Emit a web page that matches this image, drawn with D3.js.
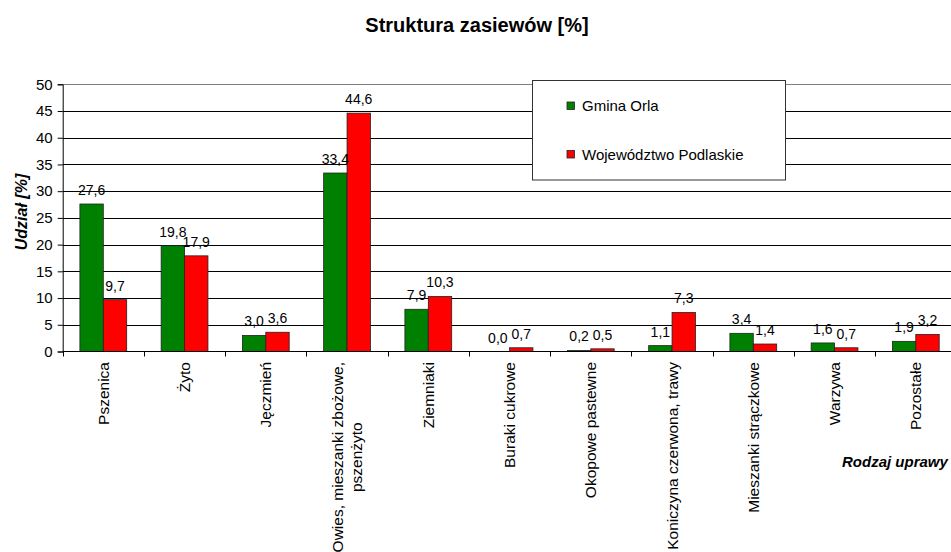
<!DOCTYPE html>
<html>
<head>
<meta charset="utf-8">
<script src="https://cdn.jsdelivr.net/npm/d3@7"></script>
<style>
  body { margin: 0; background: #fff; overflow: hidden; }
  svg { font-family: Arial, "Liberation Sans", sans-serif; }
</style>
</head>
<body>
<div class="chartWrapper"></div>
<script>
// Dane
let categories = ['Pszenica', 'Żyto', 'Jęczmień', 'Owies, mieszanki zbożowe,\npszenżyto', 'Ziemniaki',
	'Buraki cukrowe', 'Okopowe pastewne', 'Koniczyna czerwona, trawy', 'Mieszanki strączkowe', 'Warzywa', 'Pozostałe'];
let seriesNames = ['Gmina Orla', 'Województwo Podlaskie'];
let gminaValues = [27.6, 19.8, 3.0, 33.4, 7.9, 0.0, 0.2, 1.1, 3.4, 1.6, 1.9];
let podlaskieValues = [9.7, 17.9, 3.6, 44.6, 10.3, 0.7, 0.5, 7.3, 1.4, 0.7, 3.2];
let yTicks = [0, 5, 10, 15, 20, 25, 30, 35, 40, 45, 50];
let colors = ['#008000', '#ff0000'];

let width = 951,
	height = 552,
	plotLeft = 62.7,
	plotTop = 84.3,
	plotBottom = 351.5,
	catWidth = 81.25,
	plotRight = plotLeft + catWidth * categories.length;

let rows = categories.map((c, i) => ({ cat: c, values: [gminaValues[i], podlaskieValues[i]] }));

let svg = d3.select('.chartWrapper')
	.append('svg')
	.attr('width', width)
	.attr('height', height);

//Scales
let xScale = d3.scaleBand()
	.domain(categories)
	.range([plotLeft, plotRight])
	.padding(0);

let xInner = d3.scaleBand()
	.domain([0, 1])
	.range([17.2, 64])
	.padding(0);

let yScale = d3.scaleLinear()
	.domain([0, 50])
	.range([plotBottom, plotTop]);

//Gridlines
svg.append('g')
	.attr('class', 'grid')
	.selectAll('line')
	.data(yTicks.filter(d => d > 0))
	.enter()
	.append('line')
	.attr('x1', plotLeft)
	.attr('x2', plotRight)
	.attr('y1', d => Math.round(yScale(d)) + 0.5)
	.attr('y2', d => Math.round(yScale(d)) + 0.5)
	.attr('stroke', d => d === 50 ? '#808080' : '#000')
	.attr('stroke-width', 1);

//Y axis
let yAxis = d3.axisLeft(yScale)
	.tickValues(yTicks)
	.tickSize(5)
	.tickPadding(5)
	.tickFormat(d => d);

let yAxisGroup = svg.append('g')
	.attr('transform', 'translate(' + plotLeft + ',0)')
	.call(yAxis);
yAxisGroup.select('.domain').attr('stroke', '#000');
yAxisGroup.selectAll('.tick line').attr('stroke', '#000');
yAxisGroup.selectAll('.tick text')
	.style('font-size', '15px')
	.style('font-family', 'Arial, "Liberation Sans", sans-serif')
	.attr('fill', '#000');

//Bars
let groups = svg.append('g')
	.selectAll('g')
	.data(rows)
	.enter()
	.append('g')
	.attr('transform', d => 'translate(' + xScale(d.cat) + ',0)');

groups.selectAll('rect')
	.data(d => d.values)
	.enter()
	.append('rect')
	.attr('x', (d, i) => xInner(i))
	.attr('y', d => yScale(d))
	.attr('width', xInner.bandwidth())
	.attr('height', d => plotBottom - yScale(d))
	.attr('fill', (d, i) => colors[i])
	.attr('stroke', '#222')
	.attr('stroke-width', 0.8);

//Value labels
groups.selectAll('text')
	.data(d => d.values)
	.enter()
	.append('text')
	.attr('x', (d, i) => xInner(i) + xInner.bandwidth() / 2)
	.attr('y', d => yScale(d) - 9)
	.attr('text-anchor', 'middle')
	.style('font-size', '14px')
	.attr('fill', '#000')
	.text(d => d.toFixed(1).replace('.', ','));

//X axis line and ticks at category borders
svg.append('line')
	.attr('x1', plotLeft)
	.attr('x2', plotRight)
	.attr('y1', plotBottom)
	.attr('y2', plotBottom)
	.attr('stroke', '#000');

svg.append('g')
	.selectAll('line')
	.data(categories)
	.enter()
	.append('line')
	.attr('x1', d => Math.round(xScale(d)) + 0.5)
	.attr('x2', d => Math.round(xScale(d)) + 0.5)
	.attr('y1', plotBottom)
	.attr('y2', plotBottom + 5)
	.attr('stroke', '#000');

//Category labels (rotated, lines centred on each other)
let catLabels = svg.append('g')
	.selectAll('text')
	.data(categories)
	.enter()
	.append('text')
	.style('font-size', '15.5px')
	.attr('fill', '#000')
	.attr('text-anchor', 'middle');

catLabels.each(function (d) {
	let lines = d.split('\n');
	let t = d3.select(this);
	lines.forEach((line, k) => {
		t.append('tspan')
			.attr('x', 0)
			.attr('y', (k - (lines.length - 1) / 2) * 20)
			.attr('dy', '0.35em')
			.text(line);
	});
	let maxLen = d3.max(t.selectAll('tspan').nodes(), n => n.getComputedTextLength());
	t.attr('transform', 'translate(' + (xScale(d) + catWidth / 2) + ',' + (362 + maxLen / 2) + ') rotate(-90)');
});

//Title
svg.append('text')
	.attr('x', 477)
	.attr('y', 32)
	.attr('text-anchor', 'middle')
	.style('font-size', '20px')
	.style('font-weight', 'bold')
	.text('Struktura zasiewów [%]');

//Axis titles
svg.append('text')
	.attr('transform', 'translate(27,212) rotate(-90)')
	.attr('text-anchor', 'middle')
	.style('font-size', '16px')
	.style('font-weight', 'bold')
	.style('font-style', 'italic')
	.text('Udział [%]');

svg.append('text')
	.attr('x', 842)
	.attr('y', 467)
	.style('font-size', '15px')
	.style('font-weight', 'bold')
	.style('font-style', 'italic')
	.text('Rodzaj uprawy');

//Legend
let legend = svg.append('g');
legend.append('rect')
	.attr('x', 532.5)
	.attr('y', 80.5)
	.attr('width', 253)
	.attr('height', 99.5)
	.attr('fill', '#fff')
	.attr('stroke', '#333');

let legendItems = legend.selectAll('g')
	.data(seriesNames)
	.enter()
	.append('g')
	.attr('transform', (d, i) => 'translate(567,' + (102 + i * 48.5) + ')');

legendItems.append('rect')
	.attr('width', 7.5)
	.attr('height', 7.5)
	.attr('fill', (d, i) => colors[i])
	.attr('stroke', '#222')
	.attr('stroke-width', 0.8);

legendItems.append('text')
	.attr('x', 15)
	.attr('y', 9)
	.style('font-size', '15px')
	.attr('fill', '#000')
	.text(d => d);
</script>
</body>
</html>
